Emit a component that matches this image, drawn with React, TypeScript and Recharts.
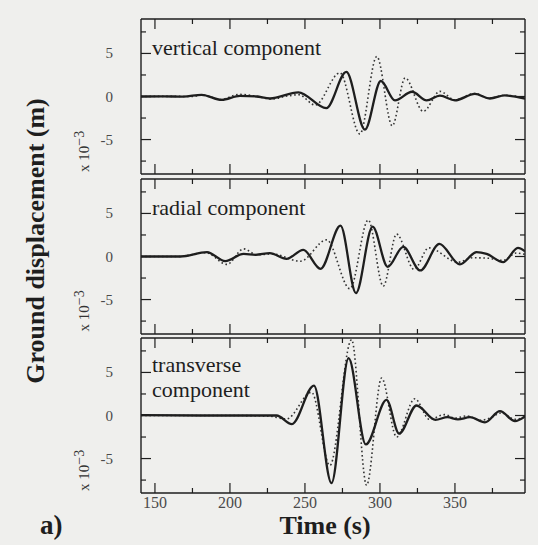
import { Line, LineChart, XAxis, YAxis } from "recharts";

// time axis (s) and displacement axis (x 10^-3 m)
const T_MIN = 140.7;
const T_MAX = 396.7;
const TIME_TICKS = [150, 175, 200, 225, 250, 275, 300, 325, 350, 375];
const DISP_TICKS = [-7.5, -5, -2.5, 0, 2.5, 5, 7.5];
const DISP_LABELS = [-5, 0, 5];

const VERTICAL_OBSERVED: [number, number][] = [
  [140.7, 0], [155.5, 0.02], [168.9, -0.02], [181.1, 0.2], [194.5, -0.39], [206.6, 0.08],
  [217.7, 0], [226.7, -0.23], [245.6, 0.48], [264.2, -1.35], [277.6, 2.85], [290.0, -3.85],
  [300.6, 1.8], [310.0, -0.45], [321.4, 0.55], [331.1, -0.45], [340.0, 0.1], [350.0, -0.45],
  [363.3, 0.3], [373.3, -0.23], [383.3, 0.12], [396.7, -0.25],
];
const VERTICAL_SYNTHETIC: [number, number][] = [
  [140.7, 0], [160, 0.02], [175, 0], [181.5, 0.18], [194, -0.35], [206, 0.25], [217, 0.05],
  [228, -0.3], [238, 0.05], [246, 0.2], [256.8, -1.0], [273.3, 2.75], [286.6, -4.35],
  [297.9, 4.65], [308.2, -3.4], [316.8, 2.15], [328.9, -1.73], [340, 0.6], [350, -0.4],
  [363, 0.35], [373, -0.2], [383, 0.15], [396.7, -0.2],
];
const RADIAL_OBSERVED: [number, number][] = [
  [140.7, 0], [166.9, 0], [184.7, 0.5], [196.9, -0.54], [209.1, 0.31], [217, 0.2],
  [226.6, 0.39], [237.7, -0.27], [248.9, 0.77], [260.4, -1.43], [273.7, 3.58], [284.0, -4.24],
  [295.1, 3.47], [305.2, -1.2], [315.5, 1.12], [326.9, -1.62], [339.6, 1.46], [353.3, -0.92],
  [364.4, 0.5], [371.1, 0.3], [382.2, -0.66], [392, 1.0], [396.7, 0.6],
];
const RADIAL_SYNTHETIC: [number, number][] = [
  [140.7, 0], [166, 0], [184, 0.45], [198, -0.92], [209.1, 0.89], [218, 0.2], [228, 0.3],
  [247, -0.55], [264.4, 1.93], [280, -3.74], [292.2, 4.24], [302.2, -3.45], [311.1, 2.6],
  [322.8, -1.5], [332.5, 1.0], [352, -0.66], [362, -0.15], [372, -0.2], [382, -0.45],
  [391, 0.4], [396.7, 0.25],
];
const TRANSVERSE_OBSERVED: [number, number][] = [
  [140.7, 0.05], [180, 0], [213, 0], [231.1, 0], [241.3, -1.0], [256, 3.47], [267.7, -7.85],
  [279.1, 6.66], [290.6, -3.36], [304.4, 1.81], [312.8, -2.1], [324.4, 1.16], [337, -0.5],
  [345, -0.2], [352, -0.45], [360, -0.2], [370, -0.8], [380, 0.5], [390, -0.65], [396.7, -0.1],
];
const TRANSVERSE_SYNTHETIC: [number, number][] = [
  [140.7, 0], [200, 0], [225, -0.05], [237.7, -0.4], [254.4, 2.7], [266.6, -5.8], [281.1, 8.8],
  [291.1, -8.1], [301.1, 4.35], [311.1, -2.5], [323.3, 1.95], [333, -0.45], [343, 0.1],
  [350, -0.3], [358, -0.05], [367, -0.55], [374, -0.25], [381, 0.3], [390, -0.45], [396.7, -0.15],
];

const INK = "#1e1e1e";
const GREY = "#4a4a4a";
const SERIF = "'Liberation Serif', 'Times New Roman', serif";

const W = 538;
const H = 545;
const PLOT_LEFT = 141;
const PLOT_W = 384;
const PLOT_H = 155;
const PAD = 12;
const AX = 1; // thickness reserved for each axis

const toPoints = (a: [number, number][]) => a.map(([t, v]) => ({ t, v }));

function timeTick(side: "top" | "bottom", labels: boolean) {
  return (p: any) => {
    const v = p.payload.value;
    const major = v % 50 === 0;
    const d = side === "bottom" ? -1 : 1;
    return (
      <g>
        <line x1={p.x} x2={p.x} y1={p.y} y2={p.y + d * (major ? 10 : 5)} stroke={INK} strokeWidth={1.2} />
        {labels && major && (
          <text x={p.x} y={p.y + 15} textAnchor="middle" fontFamily={SERIF} fontSize={16} fill={GREY}>
            {v}
          </text>
        )}
      </g>
    );
  };
}

function dispTick(side: "left" | "right") {
  return (p: any) => {
    const v = p.payload.value;
    const major = DISP_LABELS.includes(v);
    const d = side === "left" ? 1 : -1;
    return (
      <g>
        <line x1={p.x} x2={p.x + d * (major ? 10 : 5)} y1={p.y} y2={p.y} stroke={INK} strokeWidth={1.2} />
        {side === "left" && major && (
          <text x={p.x - 28} y={p.y + 5} textAnchor="end" fontFamily={SERIF} fontSize={15} fill={GREY}>
            {v}
          </text>
        )}
      </g>
    );
  };
}

function Panel({
  top,
  observed,
  synthetic,
  timeLabels = false,
}: {
  top: number;
  observed: [number, number][];
  synthetic: [number, number][];
  timeLabels?: boolean;
}) {
  const bottom = timeLabels ? 30 : PAD;
  const frame = { stroke: INK, strokeWidth: 1.4 };
  const common = {
    tickSize: 0,
    tickMargin: 0,
    tickLine: false,
    axisLine: frame,
    interval: 0 as const,
    allowDataOverflow: true,
  };
  return (
    <div style={{ position: "absolute", left: 0, top: top - PAD }}>
      <LineChart
        width={W}
        height={PLOT_H + PAD + bottom}
        margin={{
          top: PAD - AX,
          right: W - PLOT_LEFT - PLOT_W - AX,
          bottom: bottom - AX,
          left: PLOT_LEFT - AX,
        }}
      >
        <XAxis
          {...common}
          xAxisId="b"
          dataKey="t"
          type="number"
          domain={[T_MIN, T_MAX]}
          ticks={TIME_TICKS}
          height={AX}
          tick={timeTick("bottom", timeLabels)}
        />
        <XAxis
          {...common}
          xAxisId="t"
          orientation="top"
          dataKey="t"
          type="number"
          domain={[T_MIN, T_MAX]}
          ticks={TIME_TICKS}
          height={AX}
          tick={timeTick("top", false)}
        />
        <YAxis
          {...common}
          yAxisId="l"
          type="number"
          domain={[-9, 9]}
          ticks={DISP_TICKS}
          width={AX}
          tick={dispTick("left")}
        />
        <YAxis
          {...common}
          yAxisId="r"
          orientation="right"
          type="number"
          domain={[-9, 9]}
          ticks={DISP_TICKS}
          width={AX}
          tick={dispTick("right")}
        />
        <Line
          xAxisId="b"
          yAxisId="l"
          data={toPoints(synthetic)}
          dataKey="v"
          type="monotone"
          stroke="#333"
          strokeWidth={1.6}
          strokeDasharray="1.6 2.6"
          dot={false}
          isAnimationActive={false}
        />
        <Line
          xAxisId="b"
          yAxisId="l"
          data={toPoints(observed)}
          dataKey="v"
          type="monotone"
          stroke={INK}
          strokeWidth={2.3}
          dot={false}
          isAnimationActive={false}
        />
      </LineChart>
    </div>
  );
}

const PANEL_TOPS = [19, 178.5, 338];

function scaleLabel(bottom: number) {
  return (
    <text
      transform={`translate(89, ${bottom - 2}) rotate(-90)`}
      fontFamily={SERIF}
      fontSize={15}
      fill="#333"
    >
      x 10<tspan dy={-5} fontSize={14}>−3</tspan>
    </text>
  );
}

export default function App() {
  const label = { fontFamily: SERIF, fontSize: 22, fill: INK };
  const unit = PLOT_H / 18;
  return (
    <div style={{ position: "fixed", left: 0, top: 0, width: W, height: H, background: "#efefed", overflow: "hidden" }}>
      <Panel top={PANEL_TOPS[0]} observed={VERTICAL_OBSERVED} synthetic={VERTICAL_SYNTHETIC} />
      <Panel top={PANEL_TOPS[1]} observed={RADIAL_OBSERVED} synthetic={RADIAL_SYNTHETIC} />
      <Panel top={PANEL_TOPS[2]} observed={TRANSVERSE_OBSERVED} synthetic={TRANSVERSE_SYNTHETIC} timeLabels />
      <svg width={W} height={H} style={{ position: "absolute", left: 0, top: 0, pointerEvents: "none" }}>
        <text x={152} y={PANEL_TOPS[0] + 4 * unit + 2} {...label}>vertical component</text>
        <text x={152} y={PANEL_TOPS[1] + 4 * unit + 2} {...label}>radial component</text>
        <text x={152} y={PANEL_TOPS[2] + 4 * unit} {...label}>transverse</text>
        <text x={152} y={PANEL_TOPS[2] + 6.5 * unit + 3} {...label}>component</text>
        {PANEL_TOPS.map((t) => (
          <g key={t}>{scaleLabel(t + PLOT_H)}</g>
        ))}
        <text
          transform="translate(44, 241) rotate(-90)"
          textAnchor="middle"
          fontFamily={SERIF}
          fontWeight="bold"
          fontSize={26}
          fill={INK}
        >
          Ground displacement (m)
        </text>
        <text x={PLOT_LEFT + 184} y={534} textAnchor="middle" fontFamily={SERIF} fontWeight="bold" fontSize={26} fill={INK}>
          Time (s)
        </text>
        <text x={40} y={534} fontFamily={SERIF} fontWeight="bold" fontSize={27} fill={INK}>
          a)
        </text>
      </svg>
    </div>
  );
}
